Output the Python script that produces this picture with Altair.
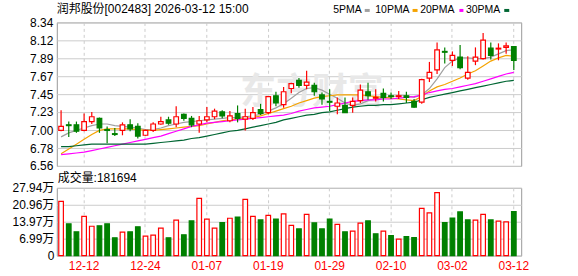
import altair as alt
import pandas as pd

# ---------------- data ----------------
dates = ["12-09", "12-10", "12-11", "12-12", "12-15", "12-16", "12-17", "12-18", "12-19",
         "12-22", "12-23", "12-24", "12-25", "12-26", "12-29", "12-30", "12-31",
         "01-05", "01-06", "01-07", "01-08", "01-09", "01-12", "01-13", "01-14", "01-15",
         "01-16", "01-19", "01-20", "01-21", "01-22", "01-23", "01-26", "01-27", "01-28",
         "01-29", "01-30", "02-02", "02-03", "02-04", "02-05", "02-06", "02-09", "02-10",
         "02-11", "02-12", "02-13", "02-24", "02-25", "02-26", "02-27", "03-02", "03-03",
         "03-04", "03-05", "03-06", "03-09", "03-10", "03-11", "03-12"]

opens = [7.00, 7.07, 7.07, 7.00, 7.11, 7.15, 7.01, 6.96, 7.00, 7.07,
         7.05, 6.94, 7.00, 7.08, 7.13, 7.08, 7.20, 7.15, 7.08, 7.13,
         7.17, 7.23, 7.12, 7.21, 7.14, 7.15, 7.26, 7.22, 7.43, 7.32,
         7.52, 7.62, 7.56, 7.56, 7.44, 7.36, 7.30, 7.31, 7.31, 7.37,
         7.48, 7.40, 7.46, 7.43, 7.42, 7.43, 7.36, 7.35, 7.65, 7.75,
         7.98, 7.87, 7.91, 7.65, 7.86, 7.89, 8.02, 8.01, 8.03, 8.04]
highs = [7.25, 7.11, 7.11, 7.21, 7.23, 7.16, 7.05, 7.03, 7.10, 7.14,
         7.09, 7.01, 7.10, 7.17, 7.17, 7.30, 7.21, 7.18, 7.18, 7.29,
         7.27, 7.25, 7.24, 7.31, 7.27, 7.29, 7.33, 7.42, 7.48, 7.54,
         7.59, 7.65, 7.74, 7.59, 7.47, 7.51, 7.41, 7.41, 7.41, 7.57,
         7.59, 7.51, 7.52, 7.47, 7.49, 7.48, 7.39, 7.64, 7.85, 8.09,
         8.03, 7.98, 8.06, 7.92, 8.03, 8.21, 8.09, 8.08, 8.09, 8.04]
lows = [6.99, 6.92, 6.97, 6.99, 7.08, 6.97, 6.84, 6.93, 6.94, 6.99,
        6.90, 6.93, 6.98, 7.07, 7.07, 7.04, 7.12, 7.04, 6.97, 7.10,
        7.14, 7.15, 7.10, 7.10, 7.00, 7.13, 7.19, 7.20, 7.30, 7.28,
        7.46, 7.53, 7.51, 7.43, 7.32, 7.24, 7.20, 7.22, 7.22, 7.34,
        7.38, 7.36, 7.36, 7.39, 7.39, 7.34, 7.28, 7.33, 7.60, 7.70,
        7.83, 7.80, 7.76, 7.63, 7.81, 7.88, 7.88, 7.87, 7.95, 7.75]
closes = [7.05, 7.06, 6.99, 7.11, 7.17, 7.03, 7.00, 6.95, 7.07, 7.02,
          6.93, 7.00, 7.08, 7.11, 7.09, 7.17, 7.15, 7.07, 7.12, 7.17,
          7.24, 7.18, 7.18, 7.15, 7.17, 7.22, 7.21, 7.42, 7.34, 7.48,
          7.58, 7.56, 7.60, 7.48, 7.39, 7.35, 7.34, 7.22, 7.36, 7.50,
          7.43, 7.41, 7.41, 7.42, 7.43, 7.41, 7.29, 7.63, 7.72, 8.00,
          7.97, 7.93, 7.78, 7.72, 7.91, 8.12, 7.93, 8.02, 8.05, 7.87]

# volume in 万 (10k) shares
volumes = [22.35, 13.08, 9.81, 16.2, 12.1, 12.3, 13.1, 7.36, 9.68, 9.8,
           11.9, 8.0, 8.45, 11.3, 7.36, 14.6, 8.6, 14.3, 23.6, 15.0,
           11.3, 13.6, 15.4, 15.9, 23.2, 16.2, 14.7, 16.6, 15.1, 17.2,
           12.5, 11.0, 17.0, 13.5, 11.0, 15.1, 12.9, 9.8, 10.1, 13.4,
           14.3, 9.0, 10.1, 8.2, 6.8, 7.8, 7.4, 19.5, 17.6, 26.0,
           13.6, 15.5, 18.0, 14.7, 14.6, 17.0, 14.7, 14.2, 13.9, 18.1694]
vol_dir = ["up", "down", "down", "up", "up", "down", "down", "down", "up", "down",
           "down", "up", "up", "up", "down", "up", "down", "down", "up", "up",
           "up", "down", "up", "down", "up", "up", "down", "up", "down", "up",
           "up", "down", "up", "down", "down", "down", "up", "down", "up", "up",
           "down", "down", "up", "down", "up", "down", "down", "up", "up", "up",
           "down", "down", "down", "down", "up", "up", "down", "up", "up", "down"]

ma5 = [6.92, 6.97, 7.00, 7.03, 7.06, 7.08, 7.08, 7.06, 7.05, 7.04,
       7.03, 7.01, 7.01, 7.03, 7.06, 7.08, 7.10, 7.11, 7.12, 7.13,
       7.14, 7.15, 7.16, 7.16, 7.17, 7.18, 7.20, 7.24, 7.28, 7.33,
       7.40, 7.47, 7.52, 7.53, 7.50, 7.45, 7.40, 7.34, 7.31, 7.33,
       7.37, 7.39, 7.40, 7.42, 7.43, 7.43, 7.41, 7.44, 7.52, 7.64,
       7.78, 7.86, 7.90, 7.90, 7.89, 7.89, 7.91, 7.95, 7.99, 8.00]
ma10 = [6.71, 6.77, 6.83, 6.89, 6.95, 7.00, 7.02, 7.02, 7.02, 7.02,
        7.01, 7.00, 7.00, 7.01, 7.02, 7.03, 7.04, 7.05, 7.06, 7.08,
        7.10, 7.12, 7.13, 7.14, 7.15, 7.16, 7.18, 7.21, 7.24, 7.27,
        7.30, 7.34, 7.37, 7.40, 7.42, 7.43, 7.44, 7.44, 7.44, 7.44,
        7.43, 7.42, 7.41, 7.40, 7.39, 7.38, 7.37, 7.42, 7.49, 7.54,
        7.57, 7.61, 7.65, 7.70, 7.74, 7.80, 7.86, 7.90, 7.93, 7.92]
ma20 = [6.70, 6.71, 6.72, 6.73, 6.75, 6.77, 6.79, 6.81, 6.83, 6.85,
        6.87, 6.89, 6.91, 6.93, 6.96, 6.99, 7.02, 7.05, 7.07, 7.09,
        7.10, 7.11, 7.12, 7.13, 7.14, 7.15, 7.16, 7.17, 7.18, 7.19,
        7.21, 7.24, 7.26, 7.28, 7.29, 7.30, 7.32, 7.34, 7.36, 7.37,
        7.38, 7.38, 7.39, 7.39, 7.40, 7.41, 7.42, 7.44, 7.47, 7.49,
        7.51, 7.52, 7.54, 7.56, 7.58, 7.61, 7.64, 7.67, 7.70, 7.72]
ma30 = [6.80, 6.80, 6.81, 6.82, 6.83, 6.83, 6.83, 6.83, 6.83, 6.83,
        6.83, 6.83, 6.84, 6.85, 6.86, 6.87, 6.88, 6.90, 6.91, 6.93,
        6.95, 6.97, 6.99, 7.00, 7.02, 7.04, 7.06, 7.08, 7.10, 7.13,
        7.15, 7.17, 7.19, 7.20, 7.22, 7.23, 7.25, 7.27, 7.29, 7.30,
        7.31, 7.31, 7.32, 7.32, 7.33, 7.34, 7.35, 7.38, 7.41, 7.43,
        7.45, 7.47, 7.49, 7.51, 7.53, 7.55, 7.57, 7.59, 7.61, 7.62]

ma_names = ["5PMA", "10PMA", "20PMA", "30PMA"]
ma_colors = ["#a0a0a0", "#f5a300", "#ff00ff", "#006633"]

price_ticks = [6.56, 6.78, 7.00, 7.23, 7.45, 7.67, 7.89, 8.12, 8.34]
vol_ticks = [0, 6.99, 13.97, 20.96, 27.94]
date_ticks = ["12-12", "12-24", "01-07", "01-19", "01-29", "02-10", "03-02", "03-12"]

title_text = "润邦股份[002483] 2026-03-12  15:00"
vol_label = "成交量:181694"
watermark = "东方财富"

# ---------------- tables ----------------
n = len(dates)
df = pd.DataFrame({
    "idx": list(range(n)), "date": dates, "open": opens, "high": highs,
    "low": lows, "close": closes, "vol": volumes, "vdir": vol_dir,
})
df["cdir"] = ["up" if c >= o else "down" for o, c in zip(opens, closes)]

rows = []
for name, series in zip(ma_names, [ma5, ma10, ma20, ma30]):
    for i, v in enumerate(series):
        rows.append({"idx": i, "date": dates[i], "ma": name, "value": v})
ma_df = pd.DataFrame(rows)

RED = "#ff0000"
GREEN = "#008000"
FONT = "Liberation Sans"
CJK = "Liberation Sans, Noto Sans CJK SC"

W, H_PRICE, H_VOL = 466, 144, 68
MARGIN_L, MARGIN_T, MARGIN_B = 56, 21, 21
one = pd.DataFrame({"k": [0]})

xscale = alt.Scale(domain=dates, paddingInner=0.4, paddingOuter=0.46, align=0.28)
stroke_scale = alt.Scale(domain=["up", "down"], range=[RED, GREEN])
fill_scale = alt.Scale(domain=["up", "down"], range=["#ffffff", GREEN])

x_top = alt.X("date:N", scale=xscale, title=None,
              axis=alt.Axis(labels=False, ticks=False, domain=False, grid=True,
                            values=date_ticks, gridColor="#cccccc", gridDash=[3, 3],
                            bandPosition=0.5))
yscale = alt.Scale(domain=[6.56, 8.34], nice=False, zero=False)
y_axis = alt.Axis(values=price_ticks, format=".2f", grid=True, gridColor="#cccccc",
                  domain=False, ticks=False, labelFont=FONT, labelFontSize=12,
                  labelColor="#000000", labelPadding=4, labelOverlap=False)

# invisible frame that fixes the outer margins of the page
frame_top = alt.Chart(one).mark_rule(opacity=0, strokeWidth=0.01).encode(
    x=alt.value(-MARGIN_L), x2=alt.value(W + MARGIN_L), y=alt.value(-MARGIN_T))

watermark_layer = alt.Chart(pd.DataFrame({"t": [watermark]})).mark_text(
    font="Noto Sans CJK SC", fontSize=36, fontWeight="bold", color="#e8e8e8",
    align="center", baseline="middle"
).encode(text="t:N", x=alt.value(256), y=alt.value(71))

ma_layer = alt.Chart(ma_df).mark_line(strokeWidth=1.2).encode(
    x=x_top,
    y=alt.Y("value:Q", scale=yscale, axis=y_axis, title=None),
    color=alt.Color("ma:N", scale=alt.Scale(domain=ma_names, range=ma_colors), legend=None),
    order=alt.Order("idx:Q"),
)

wick_layer = alt.Chart(df).mark_rule(strokeWidth=1.2).encode(
    x=x_top,
    y=alt.Y("low:Q", scale=yscale, axis=y_axis, title=None),
    y2="high:Q",
    stroke=alt.Stroke("cdir:N", scale=stroke_scale, legend=None),
)

body_layer = alt.Chart(df).mark_bar(strokeWidth=1.2).encode(
    x=x_top,
    y=alt.Y("open:Q", scale=yscale, axis=y_axis, title=None),
    y2="close:Q",
    fill=alt.Fill("cdir:N", scale=fill_scale, legend=None),
    stroke=alt.Stroke("cdir:N", scale=stroke_scale, legend=None),
)

header_layer = alt.Chart(pd.DataFrame({"t": [title_text]})).mark_text(
    font=CJK, fontSize=12, color="#000000", align="left", baseline="middle"
).encode(text="t:N", x=alt.value(0), y=alt.value(-13))

legend_layers = []
legend_text_right = [306, 354, 399, 445]
legend_mark_x = [(309, 314), (357, 362), (404, 408), (449, 454)]
for name, col, tr, (m1, m2) in zip(ma_names, ma_colors, legend_text_right, legend_mark_x):
    d = pd.DataFrame({"t": [name]})
    legend_layers.append(
        alt.Chart(d).mark_text(font=FONT, fontSize=10.5, color="#000000",
                               align="right", baseline="middle")
        .encode(text="t:N", x=alt.value(tr), y=alt.value(-12))
    )
    legend_layers.append(
        alt.Chart(d).mark_rule(color=col, strokeWidth=3)
        .encode(x=alt.value(m1), x2=alt.value(m2), y=alt.value(-12))
    )

price = alt.layer(
    frame_top, watermark_layer, ma_layer, wick_layer, body_layer, header_layer, *legend_layers
).properties(width=W, height=H_PRICE)

# ---------------- volume panel ----------------
x_bot = alt.X("date:N", scale=xscale, title=None,
              axis=alt.Axis(labels=True, ticks=False, domain=False, grid=True,
                            values=date_ticks, gridColor="#cccccc", gridDash=[3, 3],
                            bandPosition=0.5, labelAngle=0, labelColor=RED,
                            labelFont=FONT, labelFontSize=12, labelPadding=5))
vol_axis = alt.Axis(values=vol_ticks, grid=True, gridColor="#cccccc", domain=False,
                    ticks=False, labelFont=CJK, labelFontSize=12, labelColor="#000000",
                    labelPadding=3, labelOverlap=False,
                    labelExpr="datum.value == 0 ? '0' : format(datum.value, '.2f') + '万'")

frame_bottom = alt.Chart(one).mark_rule(opacity=0, strokeWidth=0.01).encode(
    x=alt.value(-MARGIN_L), x2=alt.value(W + MARGIN_L), y=alt.value(H_VOL + MARGIN_B))

vol_bars = alt.Chart(df).mark_bar(strokeWidth=1.2).encode(
    x=x_bot,
    y=alt.Y("vol:Q", scale=alt.Scale(domain=[0, 27.94], nice=False), axis=vol_axis, title=None),
    fill=alt.Fill("vdir:N", scale=fill_scale, legend=None),
    stroke=alt.Stroke("vdir:N", scale=stroke_scale, legend=None),
)
vol_text = alt.Chart(pd.DataFrame({"t": [vol_label]})).mark_text(
    font=CJK, fontSize=12, color="#000000", align="left", baseline="middle"
).encode(text="t:N", x=alt.value(1), y=alt.value(-10))

volume = alt.layer(frame_bottom, vol_bars, vol_text).properties(width=W, height=H_VOL)

chart = alt.vconcat(price, volume, spacing=22, bounds="flush").properties(
    padding=0,
    background="#ffffff",
).configure_view(stroke="#999999", strokeWidth=1)

chart.save("out.html", embed_options={"renderer": "svg", "actions": False})
